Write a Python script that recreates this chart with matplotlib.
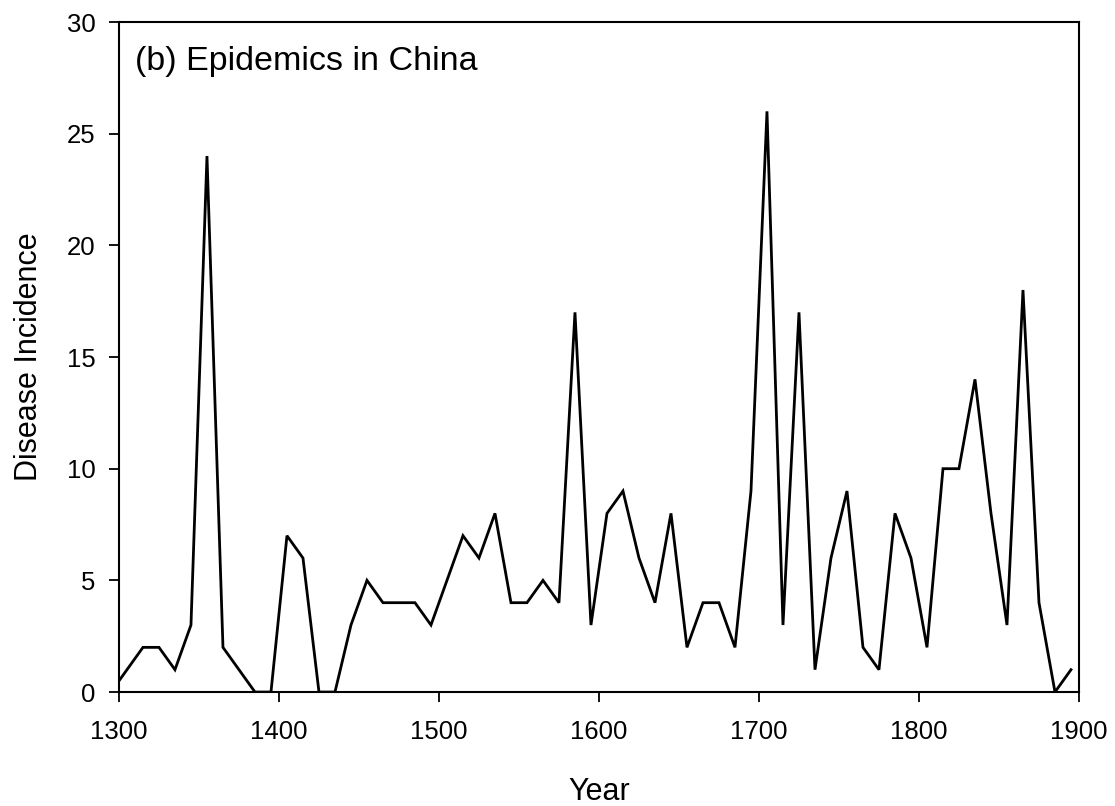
import numpy as np
import matplotlib.pyplot as plt

plt.rcParams['font.family'] = ['Liberation Sans', 'DejaVu Sans']

# decadal epidemic counts, mid-decade years
years = np.arange(1295, 1900, 10)
incidence = [0, 1, 2, 2, 1, 3, 24, 2, 1, 0,
             0, 7, 6, 0, 0, 3, 5, 4, 4, 4,
             3, 5, 7, 6, 8, 4, 4, 5, 4, 17,
             3, 8, 9, 6, 4, 8, 2, 4, 4, 2,
             9, 26, 3, 17, 1, 6, 9, 2, 1, 8,
             6, 2, 10, 10, 14, 8, 3, 18, 4, 0,
             1]

xticks = [1300, 1400, 1500, 1600, 1700, 1800, 1900]
yticks = [0, 5, 10, 15, 20, 25, 30]

fig = plt.figure(figsize=(11.15, 8.06), dpi=100)
ax = fig.add_axes([0.1067, 0.1414, 0.861, 0.8313])

ax.plot(years, incidence, color="black", linewidth=2.0, solid_joinstyle="miter")

ax.set_xlim(1300, 1900)
ax.set_ylim(0, 30)
ax.set_xticks(xticks)
ax.set_yticks(yticks)

for s in ax.spines.values():
    s.set_linewidth(1.5)
ax.tick_params(direction="out", length=7, width=1.3, labelsize=18.5)
ax.tick_params(axis="x", pad=13)
ax.tick_params(axis="y", pad=10)

ax.set_xlabel("Year", fontsize=22, labelpad=24)
ax.set_ylabel("Disease Incidence", fontsize=22, labelpad=16)

ax.text(0.017, 0.928, "(b) Epidemics in China", transform=ax.transAxes,
        fontsize=24.5, ha="left", va="baseline")

fig.savefig("out.png", dpi=100)
